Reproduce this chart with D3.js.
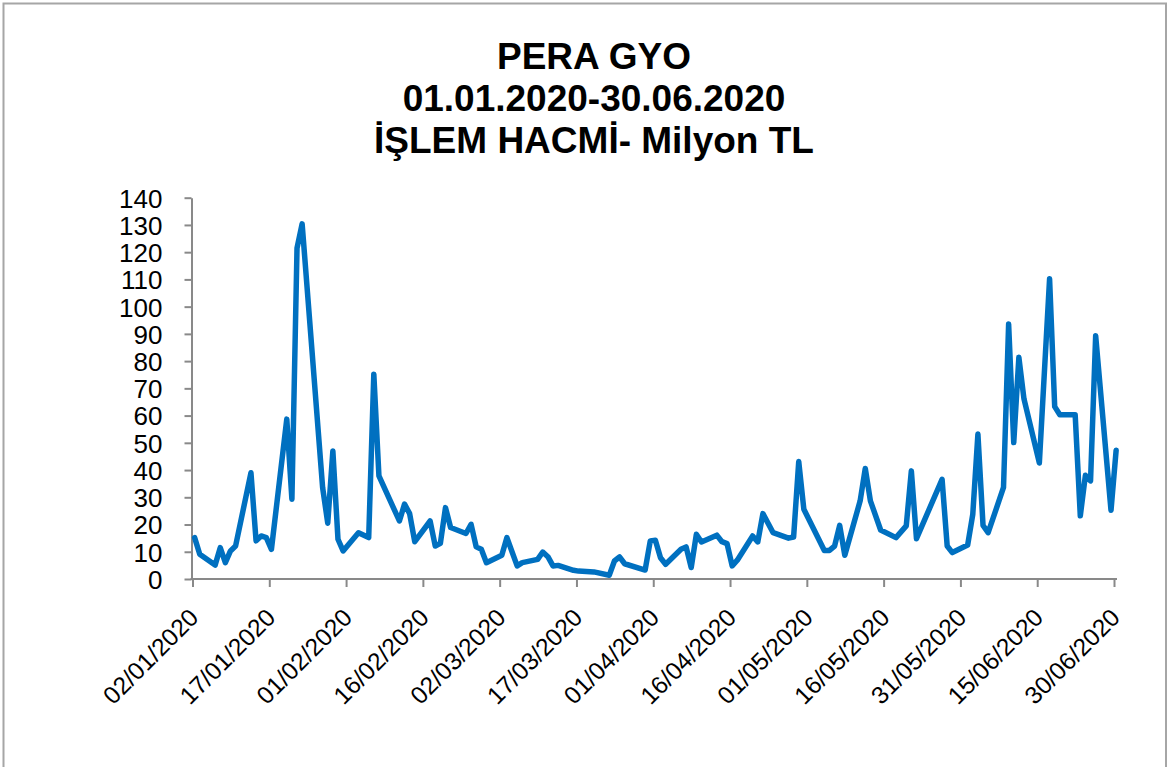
<!DOCTYPE html>
<html>
<head>
<meta charset="utf-8">
<script src="https://cdn.jsdelivr.net/npm/d3@7"></script>
<style>
  html, body { margin: 0; padding: 0; background: #fff; }
  svg { display: block; }
</style>
</head>
<body>
<svg id="chart" width="1172" height="767"></svg>
<script>
// ---- Data ----
const titleLines = ["PERA GYO", "01.01.2020-30.06.2020", "İŞLEM HACMİ- Milyon TL"];

const dates = [
  "2020-01-02","2020-01-03","2020-01-06","2020-01-07","2020-01-08","2020-01-09","2020-01-10",
  "2020-01-13","2020-01-14","2020-01-15","2020-01-16","2020-01-17",
  "2020-01-20","2020-01-21","2020-01-22","2020-01-23",
  "2020-01-27","2020-01-28","2020-01-29","2020-01-30","2020-01-31",
  "2020-02-03","2020-02-05","2020-02-06","2020-02-07",
  "2020-02-11","2020-02-12","2020-02-13","2020-02-14",
  "2020-02-17","2020-02-18","2020-02-19","2020-02-20","2020-02-21",
  "2020-02-24","2020-02-25","2020-02-26","2020-02-27","2020-02-28",
  "2020-03-02","2020-03-03","2020-03-05","2020-03-06",
  "2020-03-09","2020-03-10","2020-03-11","2020-03-12","2020-03-13",
  "2020-03-16","2020-03-17","2020-03-20",
  "2020-03-23","2020-03-24","2020-03-25","2020-03-26",
  "2020-03-30","2020-03-31","2020-04-01","2020-04-02","2020-04-03",
  "2020-04-06","2020-04-07","2020-04-08","2020-04-09","2020-04-10",
  "2020-04-13","2020-04-14","2020-04-15","2020-04-16","2020-04-17",
  "2020-04-20","2020-04-21","2020-04-22","2020-04-24",
  "2020-04-27","2020-04-28","2020-04-29","2020-04-30",
  "2020-05-04","2020-05-05","2020-05-06","2020-05-07","2020-05-08",
  "2020-05-11","2020-05-12","2020-05-13","2020-05-15",
  "2020-05-18","2020-05-20","2020-05-21","2020-05-22",
  "2020-05-27","2020-05-28","2020-05-29",
  "2020-06-01","2020-06-02","2020-06-03","2020-06-04","2020-06-05",
  "2020-06-08","2020-06-09","2020-06-10","2020-06-11","2020-06-12",
  "2020-06-15","2020-06-17","2020-06-18","2020-06-19",
  "2020-06-22","2020-06-23","2020-06-24","2020-06-25","2020-06-26",
  "2020-06-29","2020-06-30"
];

const volumes = [
  15.2, 9.1, 5.1, 11.5, 6.0, 10.3, 12.1,
  39.0, 14.0, 15.8, 15.2, 10.9,
  58.7, 29.3, 121.5, 130.4,
  33.6, 20.5, 47.0, 14.6, 10.3,
  17.0, 15.2, 75.2, 37.9,
  21.3, 27.5, 24.0, 13.7,
  21.3, 12.1, 13.1, 26.2, 18.9,
  16.7, 20.1, 11.8, 10.9, 6.0,
  8.7, 15.2, 4.8, 6.0,
  7.2, 9.9, 8.2, 4.8, 5.0,
  3.2, 2.9, 2.6,
  1.4, 6.6, 8.1, 5.6,
  3.3, 14.0, 14.2, 7.8, 5.4,
  10.9, 11.8, 4.2, 16.4, 13.6,
  16.1, 13.7, 13.0, 4.8, 6.9,
  15.8, 13.6, 24.0, 17.0,
  15.0, 15.4, 43.1, 25.6,
  10.5, 10.5, 12.1, 19.7, 8.7,
  28.7, 40.6, 28.7, 18.0,
  15.2, 19.5, 39.7, 14.8,
  36.6, 12.1, 9.7,
  12.5, 23.8, 53.2, 19.7, 17.0,
  33.6, 93.6, 50.1, 81.4, 66.1,
  42.6, 110.2, 63.3, 60.3,
  60.3, 23.2, 38.1, 36.0, 89.3,
  25.2, 47.3
];

const xTickDates = [
  "2020-01-02","2020-01-17","2020-02-01","2020-02-16","2020-03-02","2020-03-17","2020-04-01",
  "2020-04-16","2020-05-01","2020-05-16","2020-05-31","2020-06-15","2020-06-30"
];
const yTicks = [0,10,20,30,40,50,60,70,80,90,100,110,120,130,140];

// ---- Drawing ----
const svg = d3.select("#chart");
const parse = d3.utcParse("%Y-%m-%d");
const fmt = d3.utcFormat("%d/%m/%Y");

// points sit slightly after midnight of their date in the original (session time)
const data = dates.map((d, i) => ({ date: d3.utcHour.offset(parse(d), 10), value: volumes[i] }));

const axisColor = "#898989";

const x = d3.scaleUtc()
  .domain([parse("2020-01-02"), parse("2020-06-30")])
  .range([192.5, 1114]);
const y = d3.scaleLinear()
  .domain([0, 140])
  .range([579, 197.7]);

// Outer border
svg.append("rect")
  .attr("x", 3.5).attr("y", 3.5)
  .attr("width", 1162.5).attr("height", 800)
  .attr("fill", "none")
  .attr("stroke", "#a6a6a6")
  .attr("stroke-width", 2);

// Title
const title = svg.append("text")
  .attr("text-anchor", "middle")
  .attr("font-family", "'Liberation Sans', Arial, sans-serif")
  .attr("font-weight", "bold")
  .attr("font-size", 37)
  .attr("fill", "#000");
titleLines.forEach((t, i) => {
  title.append("tspan").attr("x", 594).attr("y", 69 + i * 42).text(t);
});

// Y axis
const yAxis = d3.axisLeft(y)
  .tickValues(yTicks)
  .tickSize(7)
  .tickSizeOuter(0)
  .tickPadding(22)
  .tickFormat(d3.format("d"));
const gy = svg.append("g")
  .attr("transform", `translate(${x.range()[0] - 1},0)`)
  .call(yAxis);
gy.select(".domain").attr("stroke", axisColor).attr("stroke-width", 2);
gy.selectAll(".tick line").attr("stroke", axisColor).attr("stroke-width", 2);
gy.selectAll(".tick text")
  .attr("font-family", "'Liberation Sans', Arial, sans-serif")
  .attr("font-size", 26)
  .attr("fill", "#000")
  .attr("dy", "0.36em");

// X axis
const xAxis = d3.axisBottom(x)
  .tickValues(xTickDates.map(parse))
  .tickSize(8)
  .tickSizeOuter(0)
  .tickFormat(fmt);
const gx = svg.append("g")
  .attr("transform", `translate(0,${y(0)})`)
  .call(xAxis);
gx.select(".domain")
  .attr("stroke", axisColor).attr("stroke-width", 2)
  .attr("d", `M${x.range()[0] - 2},0H${x.range()[1] + 3}`);
gx.selectAll(".tick line").attr("stroke", axisColor).attr("stroke-width", 2);
gx.selectAll(".tick text")
  .attr("font-family", "'Liberation Sans', Arial, sans-serif")
  .attr("font-size", 24.5)
  .attr("fill", "#000")
  .attr("text-anchor", "end")
  .attr("dy", null)
  .attr("y", null)
  .attr("transform", "translate(7,40) rotate(-45)");

// Line
const line = d3.line()
  .x(d => x(d.date))
  .y(d => y(d.value));
svg.append("path")
  .datum(data)
  .attr("fill", "none")
  .attr("stroke", "#0070C0")
  .attr("stroke-width", 5.5)
  .attr("stroke-linejoin", "round")
  .attr("stroke-linecap", "round")
  .attr("d", line);
</script>
</body>
</html>
